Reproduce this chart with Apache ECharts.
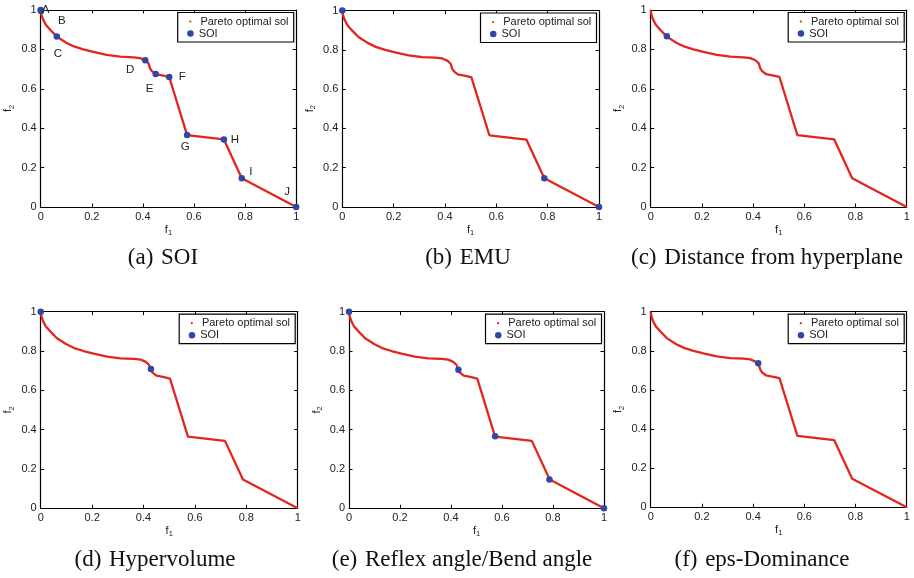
<!DOCTYPE html>
<html>
<head>
<meta charset="utf-8">
<script src="https://cdn.jsdelivr.net/npm/echarts@6/dist/echarts.min.js"></script>
<style>
html,body{margin:0;padding:0;background:#fff;}
#chart{width:914px;height:578px;}
</style>
</head>
<body>
<div id="chart"></div>
<script>
// ---- Data ----
const frontF1 = [0, 0.003, 0.01, 0.02, 0.037, 0.063, 0.10, 0.13, 0.167, 0.206, 0.258, 0.311, 0.363, 0.389, 0.409, 0.422, 0.428, 0.435, 0.45, 0.48, 0.503, 0.573, 0.717, 0.787, 1];
const frontF2 = [1, 0.975, 0.95, 0.925, 0.90, 0.865, 0.834, 0.815, 0.80, 0.787, 0.772, 0.763, 0.760, 0.756, 0.745, 0.729, 0.704, 0.690, 0.675, 0.667, 0.660, 0.365, 0.343, 0.146, 0];

const soiA_f1 = [0, 0.001, 0.063, 0.409, 0.45, 0.503, 0.573, 0.717, 0.787, 1];
const soiA_f2 = [1, 0.995, 0.865, 0.745, 0.675, 0.660, 0.365, 0.343, 0.146, 0];
const soiA_labels = ['A', 'B', 'C', 'D', 'E', 'F', 'G', 'H', 'I', 'J'];
const soiB_f1 = [0, 0.787, 1];
const soiB_f2 = [1, 0.146, 0];
const soiC_f1 = [0.063];
const soiC_f2 = [0.867];
const soiD_f1 = [0, 0.429];
const soiD_f2 = [1, 0.708];
const soiE_f1 = [0, 0.429, 0.573, 0.786, 1];
const soiE_f2 = [1, 0.705, 0.367, 0.147, 0];
const soiF_f1 = [0.42];
const soiF_f2 = [0.737];

const captions = ['(a) \u200ASOI', '(b) \u200AEMU', '(c) \u200ADistance from hyperplane', '(d) \u200AHypervolume', '(e) \u200AReflex angle/Bend angle', '(f) \u200Aeps-Dominance'];
const tickValues = [0, 0.2, 0.4, 0.6, 0.8, 1];
const legendNames = ['Pareto optimal sol', 'SOI'];
const xName = 'f1', yName = 'f2';

// ---- Layout ----
const layouts = [
  {left: 40.7, top: 10, width: 255.5, height: 197, cap: [163, 258]},
  {left: 342.3, top: 10.5, width: 256.7, height: 196.5, cap: [468, 258]},
  {left: 650.7, top: 10, width: 256, height: 197, cap: [767, 258]},
  {left: 40.7, top: 311.7, width: 257, height: 196.6, cap: [155, 560]},
  {left: 349, top: 311.7, width: 255, height: 196.6, cap: [462, 560]},
  {left: 650.7, top: 311.7, width: 256, height: 195.6, cap: [762, 560]}
];
const soiSets = [
  [soiA_f1, soiA_f2], [soiB_f1, soiB_f2], [soiC_f1, soiC_f2],
  [soiD_f1, soiD_f2], [soiE_f1, soiE_f2], [soiF_f1, soiF_f2]
];
const labelOffsets = {A:[5,0], B:[21,10], C:[1,17], D:[-15,10], E:[-6,15], F:[13,0], G:[-2,12], H:[11,0], I:[9,-6], J:[-9,-15]};

const RED = '#e3261d';
const BLUE = '#2f47a6';
const TXT = '#222';
const SANS = 'Liberation Sans, Arial, Helvetica, sans-serif';
const SERIF = 'Liberation Serif, Times New Roman, serif';

const grids = [], xAxes = [], yAxes = [], series = [], legends = [], graphics = [];
const frontData = frontF1.map((x, i) => [x, frontF2[i]]);

function axisCommon(showLabel) {
  return {
    type: 'value', min: 0, max: 1, interval: 0.2,
    axisLine: {show: true, onZero: false, lineStyle: {color: '#000', width: 1.2}},
    axisTick: {show: true, inside: true, length: 3.5, lineStyle: {color: '#000', width: 1}},
    splitLine: {show: false},
    axisLabel: {show: showLabel, color: TXT, fontSize: 11, fontFamily: SANS, margin: 4}
  };
}

layouts.forEach((L, i) => {
  grids.push({left: L.left, top: L.top, width: L.width, height: L.height, containLabel: false});
  const xb = axisCommon(true);
  Object.assign(xb, {gridIndex: i, position: 'bottom',
    name: '{f|f}{s|1}', nameLocation: 'middle', nameGap: 15,
    nameTextStyle: {rich: {f: {fontSize: 11, fontFamily: SANS, color: TXT}, s: {fontSize: 7.5, fontFamily: SANS, color: TXT, padding: [7, 0, 0, 0]}}}});
  const xt = axisCommon(false);
  Object.assign(xt, {gridIndex: i, position: 'top'});
  const yl = axisCommon(true);
  Object.assign(yl, {gridIndex: i, position: 'left',
    name: '{f|f}{s|2}', nameLocation: 'middle', nameGap: 25, nameRotate: 90,
    nameTextStyle: {rich: {f: {fontSize: 11, fontFamily: SANS, color: TXT}, s: {fontSize: 7.5, fontFamily: SANS, color: TXT, padding: [7, 0, 0, 0]}}}});
  const yr = axisCommon(false);
  Object.assign(yr, {gridIndex: i, position: 'right'});
  xAxes.push(xb, xt);
  yAxes.push(yl, yr);

  series.push({
    name: legendNames[0], type: 'line', xAxisIndex: 2 * i, yAxisIndex: 2 * i,
    data: frontData, showSymbol: false, symbol: 'none', smooth: false,
    lineStyle: {color: RED, width: 2.3}, itemStyle: {color: RED}, z: 2, silent: true, animation: false
  });
  const [sx, sy] = soiSets[i];
  const sdata = sx.map((x, k) => {
    const item = {value: [x, sy[k]]};
    if (i === 0) {
      item.name = soiA_labels[k];
      item.label = {show: true, position: 'inside', offset: labelOffsets[soiA_labels[k]], formatter: '{b}',
        color: TXT, fontSize: 11.5, fontFamily: SANS};
    }
    return item;
  });
  series.push({
    name: legendNames[1], type: 'scatter', xAxisIndex: 2 * i, yAxisIndex: 2 * i,
    data: sdata, symbol: 'circle', symbolSize: 6.5, itemStyle: {color: BLUE, opacity: 1}, z: 3, animation: false
  });

  // legend box
  const right = L.left + L.width;
  const bx = right - 118.5, by = L.top + 2.5, bw = 116, bh = 29.5;
  graphics.push({type: 'rect', z: 10, shape: {x: bx, y: by, width: bw, height: bh},
    style: {fill: '#fff', stroke: '#000', lineWidth: 1.2}});
  legends.push({
    data: [{name: legendNames[0], icon: 'circle'}], orient: 'vertical', selectedMode: false,
    left: bx + 11.5, top: by + 3, padding: 0, itemWidth: 2.2, itemHeight: 2.2, z: 20,
    textStyle: {fontSize: 11, fontFamily: SANS, color: TXT, lineHeight: 12, padding: [0, 0, 0, 4]}
  });
  legends.push({
    data: [{name: legendNames[1], icon: 'circle'}], orient: 'vertical', selectedMode: false,
    left: bx + 9.5, top: by + 15, padding: 0, itemWidth: 6.5, itemHeight: 6.5, z: 20,
    textStyle: {fontSize: 11, fontFamily: SANS, color: TXT, lineHeight: 12}
  });

  graphics.push({type: 'text', x: L.cap[0], y: L.cap[1], z: 10,
    style: {text: captions[i], fontSize: 23, fontFamily: SERIF, fill: '#111', align: 'center', verticalAlign: 'middle'}});
});

const chart = echarts.init(document.getElementById('chart'), null, {renderer: 'canvas'});
chart.setOption({
  backgroundColor: '#fff',
  animation: false,
  grid: grids, xAxis: xAxes, yAxis: yAxes, series: series, legend: legends,
  graphic: graphics
});
</script>
</body>
</html>
